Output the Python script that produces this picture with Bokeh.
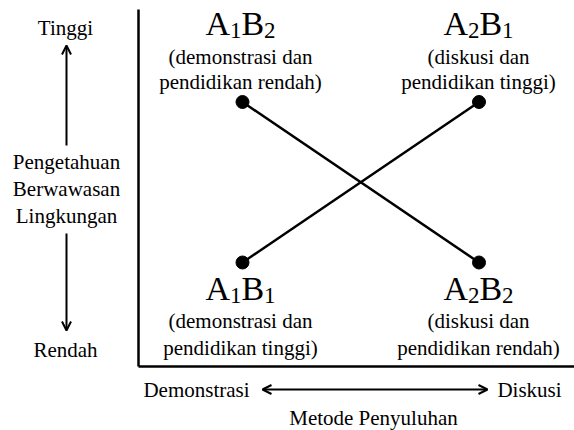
from bokeh.plotting import figure
from bokeh.models import ColumnDataSource, Arrow, OpenHead, Range1d
from bokeh.core.properties import value
from bokeh.embed import file_html
from bokeh.resources import INLINE

# ---------------- data ----------------
methods = ["Demonstrasi", "Diskusi"]          # x categories (metode penyuluhan)
method_pos = [0, 1]
levels = ["Rendah", "Tinggi"]                 # pengetahuan berwawasan lingkungan
# knowledge level (0 = Rendah, 1 = Tinggi)
b1_tinggi = [0, 1]   # pendidikan tinggi: A1B1 -> A2B1
b2_rendah = [1, 0]   # pendidikan rendah: A1B2 -> A2B2
group_codes_b1 = [("A", "1", "B", "1"), ("A", "2", "B", "1")]
group_codes_b2 = [("A", "1", "B", "2"), ("A", "2", "B", "2")]
group_desc_b1 = [("(demonstrasi dan", "pendidikan tinggi)"), ("(diskusi dan", "pendidikan tinggi)")]
group_desc_b2 = [("(demonstrasi dan", "pendidikan rendah)"), ("(diskusi dan", "pendidikan rendah)")]
y_title = ["Pengetahuan", "Berwawasan", "Lingkungan"]
x_title = "Metode Penyuluhan"

# ---------------- layout (page pixels) ----------------
W, H = 574, 430
PX0, PX1 = 242.0, 478.5     # page x of method 0 and 1
PY0, PY1 = 262.0, 101.5     # page y of level 0 and 1
SX = PX1 - PX0
SY = PY0 - PY1

# primary ranges = layout space (pixels, y downwards); data on its own ranges
p = figure(width=W, height=H, output_backend="svg", toolbar_location=None,
           x_range=Range1d(0, W), y_range=Range1d(H, 0),
           x_axis_type=None, y_axis_type=None, min_border=0)
p.extra_x_ranges = {"data": Range1d((0 - PX0) / SX, (W - PX0) / SX)}
p.extra_y_ranges = {"data": Range1d((PY0 - H) / SY, (PY0 - 0) / SY)}
p.outline_line_color = None
p.grid.visible = False

# texts collected per font size
texts = {}
def put(txt, px, base, size, align):
    d = texts.setdefault((size, align), dict(x=[], y=[], t=[]))
    d["x"].append(px)
    d["y"].append(base - 0.34 * size)   # glyph is drawn vertically centred
    d["t"].append(txt)

BIG, SMALL = 34, 23
def composite(code, cx, base):
    widths = [0.722 if code[0] == "A" else 0.667, 0.5, 0.667, 0.5]
    sizes = [BIG, SMALL, BIG, SMALL]
    adv = [w * s for w, s in zip(widths, sizes)]
    x = cx - sum(adv) / 2
    for ch, s, a in zip(code, sizes, adv):
        put(ch, x, base + (0 if s == BIG else 3), s, "left")
        x += a

def line_text(txt, cx, base, size=21):
    put(txt, cx, base, size, "center")

def group_label(code, desc, cx, high):
    if high:
        composite(code, cx, 35); line_text(desc[0], cx, 64); line_text(desc[1], cx, 89)
    else:
        composite(code, cx, 300); line_text(desc[0], cx, 328); line_text(desc[1], cx, 355)

label_x = [240, 478]
for i in range(2):
    group_label(group_codes_b2[i], group_desc_b2[i], label_x[i], b2_rendah[i] == 1)
    group_label(group_codes_b1[i], group_desc_b1[i], label_x[i], b1_tinggi[i] == 1)

line_text(levels[1], 65, 35)
line_text(levels[0], 65, 357)
for t, b in zip(y_title, [169, 196, 223]):
    line_text(t, 66, b)
line_text(methods[0], 196, 397)
line_text(methods[1], 529, 397)
line_text(x_title, 373, 425)

for (size, align), d in texts.items():
    p.text(x="x", y="y", text="t", source=ColumnDataSource(d),
           text_font=value("Liberation Serif"), text_font_size=f"{size}px",
           text_align=align, text_baseline="middle", text_color="black")

# frame lines (L-shaped axes)
p.segment(x0=[138, 138], y0=[9, 366], x1=[138, 576], y1=[366, 366],
          line_color="black", line_width=2.5)

# data lines + markers (through the data scales)
for vals in (b2_rendah, b1_tinggi):
    src = ColumnDataSource(dict(x=method_pos, y=vals))
    p.line("x", "y", source=src, line_color="black", line_width=2.5,
           x_range_name="data", y_range_name="data")
    p.scatter("x", "y", source=src, size=13, color="black",
              x_range_name="data", y_range_name="data")

# direction arrows
head = dict(size=9, line_width=2, line_color="black")
p.add_layout(Arrow(x_start=66, y_start=145, x_end=66, y_end=45,
                   line_width=2, line_color="black", end=OpenHead(**head)))
p.add_layout(Arrow(x_start=66, y_start=233, x_end=66, y_end=330,
                   line_width=2, line_color="black", end=OpenHead(**head)))
p.add_layout(Arrow(x_start=262, y_start=389, x_end=487, y_end=389,
                   line_width=2, line_color="black",
                   start=OpenHead(**head), end=OpenHead(**head)))

open("out.html", "w").write(file_html(p, INLINE))
